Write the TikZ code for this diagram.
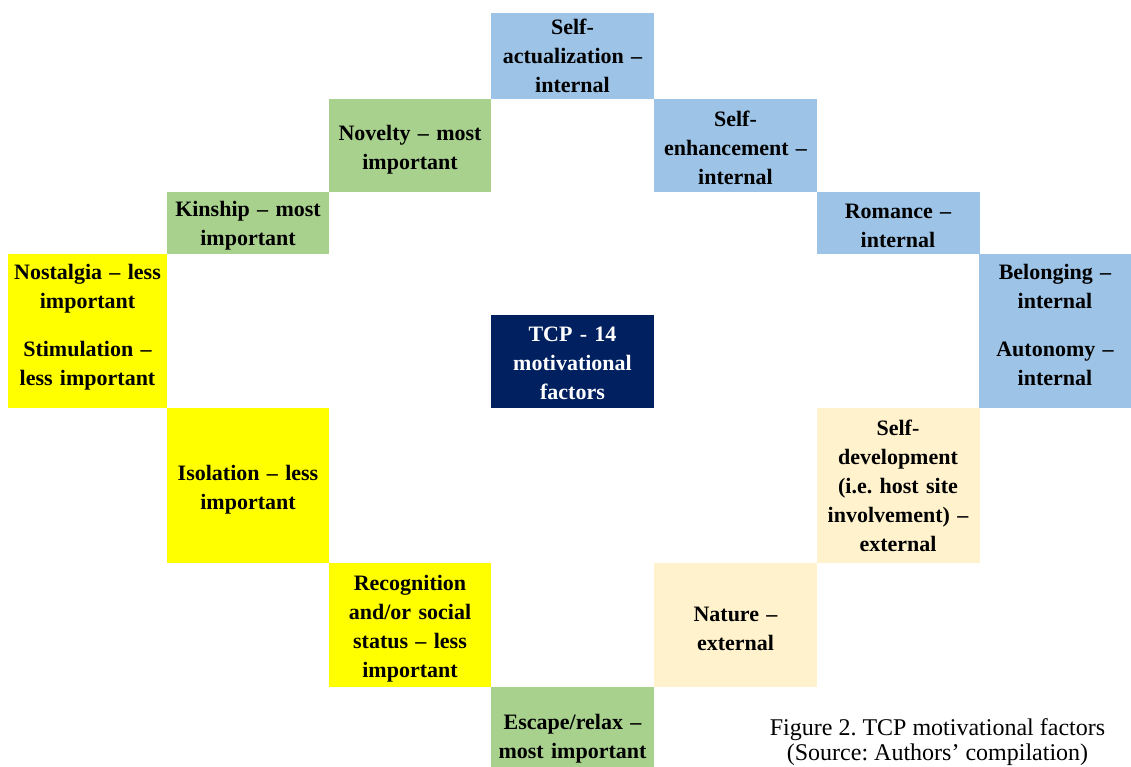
\documentclass[tikz,border=0pt]{standalone}
\usepackage{fontspec}
\setmainfont{Liberation Serif}
\frenchspacing
\definecolor{blueF}{HTML}{9DC3E6}
\definecolor{greenF}{HTML}{A9D18E}
\definecolor{yellowF}{HTML}{FFFF00}
\definecolor{creamF}{HTML}{FFF2CC}
\definecolor{navyF}{HTML}{002060}
\newcommand{\tstrut}[1]{\rule{0pt}{#1}}
\newcommand{\bstrut}[1]{\rule[-#1]{0pt}{#1}}
\tikzset{
  box/.style={inner sep=0pt, outer sep=0pt, align=center, text width=#1,
    font=\bfseries\fontsize{22}{29}\selectfont, text=black},
  box/.default=150pt,
  capt/.style={inner sep=0pt, align=center, font=\fontsize{24}{25}\selectfont}
}
\begin{document}
\begin{tikzpicture}[x=1pt,y=-1pt]
\useasboundingbox (0,0) rectangle (1131,766);
% top
\node[box, fill=blueF, minimum width=163pt, minimum height=86pt] (sa) at (572.5,55.5) {Self-\\actualization –\\internal};
\node[box, fill=greenF, minimum width=162pt, minimum height=93pt] (nov) at (410,145.5) {\tstrut{23pt}Novelty – most\\important};
\node[box, fill=blueF, minimum width=163pt, minimum height=93pt] (se) at (735.5,145.5) {\tstrut{19.5pt}Self-\\enhancement –\\internal};
\node[box, fill=greenF, minimum width=162pt, minimum height=62pt] (kin) at (248,223) {\tstrut{21.5pt}Kinship – most\\important};
\node[box, fill=blueF, minimum width=163pt, minimum height=62pt] (rom) at (898,223) {\tstrut{20.5pt}Romance –\\internal};
% middle
\node[box, fill=yellowF, minimum width=159pt, minimum height=154pt] (nos) at (87.5,331) {Nostalgia – less\\important\\[19pt]Stimulation –\\less important\bstrut{13pt}};
\node[box, fill=blueF, minimum width=152pt, minimum height=154pt] (bel) at (1055,331) {Belonging –\\internal\\[19pt]Autonomy –\\internal\bstrut{13pt}};
\node[box, fill=navyF, text=white, minimum width=163pt, minimum height=93pt] (tcp) at (572.5,361.5) {\tstrut{18.5pt}TCP - 14\\motivational\\factors};
% lower
\node[box, fill=yellowF, minimum width=162pt, minimum height=155pt] (iso) at (248,485.5) {\tstrut{23pt}Isolation – less\\important};
\node[box, fill=creamF, minimum width=163pt, minimum height=155pt] (sd) at (898,485.5) {Self-\\development\\(i.e. host site\\involvement) –\\external};
\node[box, fill=yellowF, minimum width=162pt, minimum height=124pt] (rec) at (410,625) {\tstrut{23pt}Recognition\\and/or social\\status – less\\important};
\node[box, fill=creamF, minimum width=163pt, minimum height=124pt] (nat) at (735.5,625) {\tstrut{23pt}Nature –\\external};
\node[box, fill=greenF, minimum width=163pt, minimum height=99pt] (esc) at (572.5,736.5) {\tstrut{19.5pt}Escape/relax –\\most important};
% caption
\node[capt] (cap) at (937.5,742) {Figure 2. TCP motivational factors\\(Source: Authors’ compilation)};
\end{tikzpicture}
\end{document}
